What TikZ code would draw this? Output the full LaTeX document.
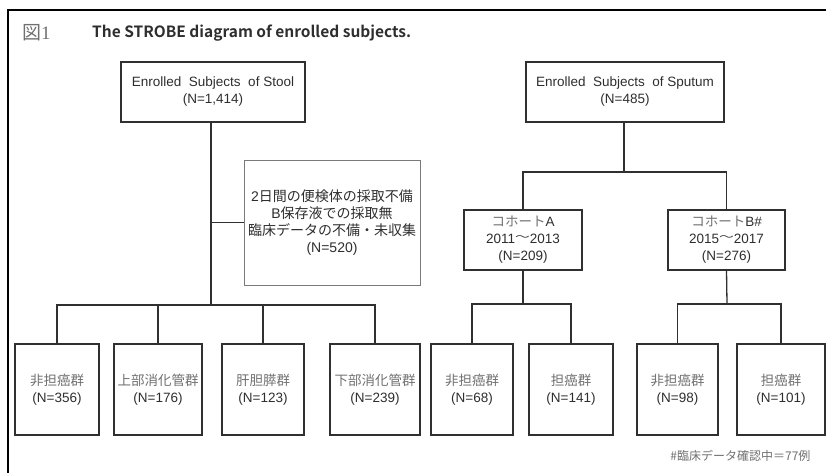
\documentclass[tikz,border=0pt]{standalone}
\usepackage{fontspec}
\setmainfont{Liberation Sans}
\newfontfamily\jp{Noto Sans CJK JP}
\newfontfamily\jpb{Noto Sans CJK JP Bold}
\newfontfamily\serifnum{Liberation Serif}
\definecolor{txt}{HTML}{2E2E2E}
\definecolor{jtx}{HTML}{707070}
\definecolor{edge}{HTML}{303030}
\definecolor{ledge}{HTML}{7A7A7A}
\newcommand{\jl}[1]{{\color{jtx}\jp\fontsize{13.5}{17}\selectfont #1}}
\newcommand{\wv}{\raisebox{0.45ex}{\scalebox{1.1}[0.7]{\jp \symbol{"301C}}}}
\begin{document}
\begin{tikzpicture}[x=1pt,y=-1pt,
  box/.style={draw=edge,line width=1.4pt,align=center,inner sep=0pt,text=txt,
    font=\fontsize{13.5}{17}\selectfont},
  exbox/.style={draw=ledge,line width=0.9pt,align=center,inner sep=0pt,text=txt,
    font=\fontsize{14}{16.8}\selectfont},
  link/.style={draw=edge,line width=1.3pt},
  frame/.style={draw=black,line width=2pt}]
\useasboundingbox (0,0) rectangle (826,473);
\draw[frame] (8,473) -- (8,10.5) -- (826,10.5);
\node[anchor=west,text=jtx,font=\fontsize{19}{19}\selectfont,inner sep=0pt] (fig) at (22,33) {{\jp 図}{\serifnum 1}};
\node[anchor=west,text=txt,font=\jpb\fontsize{15.5}{15.5}\selectfont,inner sep=0pt] (title) at (92,33) {The STROBE diagram of enrolled subjects.};
% stool branch
\node[box,minimum width=184,minimum height=60] (stool) at (213,92) {Enrolled\ \ Subjects\ \ of Stool\\(N=1,414)};
\node[exbox,minimum width=176,minimum height=125] (excl) at (332,222.5)
  {2{\jp 日間の便検体の採取不備}\\B{\jp 保存液での採取無}\\{\jp 臨床データの不備・未収集}\\(N=520)};
\node[box,minimum width=84,minimum height=91] (l1) at (57,389.5) {\jl{非担癌群}\\(N=356)};
\node[box,minimum width=88,minimum height=91] (l2) at (158,389.5) {\jl{上部消化管群}\\(N=176)};
\node[box,minimum width=82,minimum height=91] (l3) at (263,389.5) {\jl{肝胆膵群}\\(N=123)};
\node[box,minimum width=90,minimum height=91] (l4) at (375,389.5) {\jl{下部消化管群}\\(N=239)};
\coordinate (jl) at (211,305);
\draw[link] (stool.south -| jl) -- (jl);
\draw[link] (jl |- excl.west) -- (excl.west);
\draw[link] (l1.north) |- (l4.north |- jl) -- (l4.north);
\draw[link] (l2.north) -- (l2.north |- jl);
\draw[link] (l3.north) -- (l3.north |- jl);
% sputum branch
\node[box,minimum width=198,minimum height=60] (sput) at (625,92) {Enrolled\ \ Subjects\ \ of Sputum\\(N=485)};
\node[box,minimum width=118,minimum height=60] (ca) at (523,240) {\jl{コホート}A\\2011\wv2013\\(N=209)};
\node[box,minimum width=117,minimum height=60] (cb) at (726.5,240) {\jl{コホート}B\#\\2015\wv2017\\(N=276)};
\coordinate (js) at (624,172);
\draw[link] (sput.south -| js) -- (js);
\draw[link] (ca.north) |- (cb.north |- js) -- (cb.north);
\node[box,minimum width=82,minimum height=91] (a1) at (472,389.5) {\jl{非担癌群}\\(N=68)};
\node[box,minimum width=84,minimum height=91] (a2) at (571,389.5) {\jl{担癌群}\\(N=141)};
\node[box,minimum width=81,minimum height=91] (b1) at (677.5,389.5) {\jl{非担癌群}\\(N=98)};
\node[box,minimum width=88,minimum height=91] (b2) at (781,389.5) {\jl{担癌群}\\(N=101)};
\coordinate (ja) at (523,304);
\coordinate (jb) at (727,304);
\draw[link] (ca.south) -- (ja);
\draw[link] (a1.north) |- (a2.north |- ja) -- (a2.north);
\draw[link] (cb.south) -- (jb);
\draw[link] (b1.north) |- (b2.north |- jb) -- (b2.north);
\node[anchor=east,text=jtx,font=\jp\fontsize{12}{12}\selectfont] (note) at (814,456) {\#臨床データ確認中＝77例};
\end{tikzpicture}
\end{document}
